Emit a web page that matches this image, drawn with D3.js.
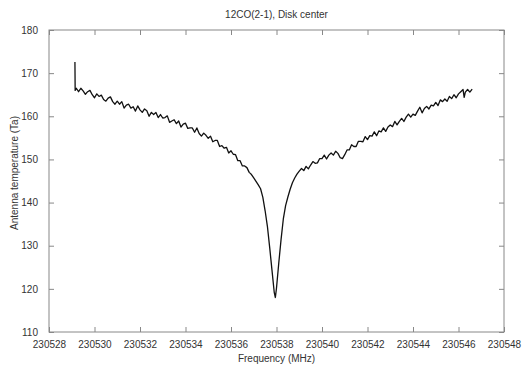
<!DOCTYPE html>
<html>
<head>
<meta charset="utf-8">
<script src="https://cdn.jsdelivr.net/npm/d3@7"></script>
<style>
  body { margin: 0; background: #fff; }
  text { font-family: "Liberation Sans", Arial, sans-serif; fill: #333; }
</style>
</head>
<body>
<script>
let width = 522,
    height = 367;

let margin = {top: 30, right: 18, bottom: 35, left: 49};

let titleText = "12CO(2-1), Disk center";
let xLabel = "Frequency (MHz)";
let yLabel = "Antenna temperature (Ta)";

let xTicks = [230528, 230530, 230532, 230534, 230536, 230538, 230540, 230542, 230544, 230546, 230548];
let yTicks = [110, 120, 130, 140, 150, 160, 170, 180];

// spectrum channels (MHz)
let freqs = [230529.14, 230529.15,
  230529.2, 230529.3, 230529.4, 230529.5, 230529.6, 230529.7, 230529.8, 230529.9,
  230530.0, 230530.1, 230530.2, 230530.3, 230530.4, 230530.5, 230530.6, 230530.7, 230530.8, 230530.9,
  230531.0, 230531.1, 230531.2, 230531.3, 230531.4, 230531.5, 230531.6, 230531.7, 230531.8, 230531.9,
  230532.0, 230532.1, 230532.2, 230532.3, 230532.4, 230532.5, 230532.6, 230532.7, 230532.8, 230532.9,
  230533.0, 230533.1, 230533.2, 230533.3, 230533.4, 230533.5, 230533.6, 230533.7, 230533.8, 230533.9,
  230534.0, 230534.1, 230534.2, 230534.3, 230534.4, 230534.5, 230534.6, 230534.7, 230534.8, 230534.9,
  230535.0, 230535.1, 230535.2, 230535.3, 230535.4, 230535.5, 230535.6, 230535.7, 230535.8, 230535.9,
  230536.0, 230536.1, 230536.2, 230536.3, 230536.4, 230536.5, 230536.6, 230536.7, 230536.8, 230536.9,
  230537.0, 230537.1, 230537.2, 230537.3, 230537.4, 230537.5, 230537.6, 230537.7, 230537.8, 230537.9, 230537.95,
  230538.0, 230538.1, 230538.2, 230538.3, 230538.4, 230538.5, 230538.6, 230538.7, 230538.8, 230538.9,
  230539.0, 230539.1, 230539.2, 230539.3, 230539.4, 230539.5, 230539.6, 230539.7, 230539.8, 230539.9,
  230540.0, 230540.1, 230540.2, 230540.3, 230540.4, 230540.5, 230540.6, 230540.7, 230540.8, 230540.9,
  230541.0, 230541.1, 230541.2, 230541.3, 230541.4, 230541.5, 230541.6, 230541.7, 230541.8, 230541.9,
  230542.0, 230542.1, 230542.2, 230542.3, 230542.4, 230542.5, 230542.6, 230542.7, 230542.8, 230542.9,
  230543.0, 230543.1, 230543.2, 230543.3, 230543.4, 230543.5, 230543.6, 230543.7, 230543.8, 230543.9,
  230544.0, 230544.1, 230544.2, 230544.3, 230544.4, 230544.5, 230544.6, 230544.7, 230544.8, 230544.9,
  230545.0, 230545.1, 230545.2, 230545.3, 230545.4, 230545.5, 230545.6, 230545.7, 230545.8, 230545.9,
  230546.0, 230546.1, 230546.2, 230546.25, 230546.3, 230546.4, 230546.5, 230546.6];

// antenna temperature per channel
let temps = [172.6, 166.0,
  166.5, 165.7, 166.5, 165.9, 165.1, 165.7, 166.0, 165.0,
  164.3, 165.2, 164.6, 164.9, 163.9, 163.5, 164.2, 164.5, 163.4, 162.8,
  163.5, 162.8, 163.4, 161.9, 162.6, 162.8, 161.9, 162.2, 161.2, 162.4,
  161.5, 160.9, 161.7, 161.3, 160.0, 160.9, 160.4, 160.9, 159.7, 160.4,
  159.6, 159.7, 160.1, 158.6, 158.9, 159.2, 158.3, 158.9, 157.5, 158.2,
  158.4, 157.2, 157.3, 157.3, 156.3, 157.3, 156.0, 155.4, 156.1, 155.6,
  154.9, 155.4, 154.1, 154.4, 154.4, 153.0, 153.2, 152.6, 152.8, 151.5,
  152.0, 151.2, 151.1, 149.7, 149.7, 148.5, 148.5, 148.1, 147.0, 146.5,
  145.7, 144.9, 144.1, 143.2, 141.2, 138.1, 134.5, 129.6, 124.4, 119.2, 118.0,
  120.2, 126.0, 131.4, 136.2, 139.3, 141.3, 143.1, 144.6, 145.7, 146.6,
  147.3, 147.9, 147.4, 148.4, 147.8, 148.7, 149.5, 149.1, 149.2, 150.2,
  150.2, 151.0, 150.1, 151.0, 151.5, 151.0, 151.9, 151.4, 150.4, 150.2,
  151.1, 152.2, 152.2, 153.4, 153.0, 153.0, 154.2, 154.2, 154.1, 155.3,
  154.6, 155.5, 155.4, 156.4, 155.5, 156.6, 156.4, 157.3, 156.5, 157.5,
  158.0, 157.6, 158.8, 158.0, 158.8, 159.5, 158.8, 159.8, 160.5, 159.8,
  160.5, 160.2, 161.2, 162.1, 160.8, 161.8, 162.3, 161.7, 162.6, 162.4,
  163.2, 162.5, 163.8, 163.4, 164.0, 163.5, 164.6, 164.1, 165.0, 164.3,
  165.2, 165.7, 166.2, 164.4, 165.6, 166.2, 165.6, 166.3];

let data = freqs.map(function(f, i) { return {f: f, t: temps[i]}; });

let svg = d3.select("body")
            .append("svg")
            .attr("width", width)
            .attr("height", height);

let x0 = margin.left, x1 = width - margin.right;
let y0 = margin.top, y1 = height - margin.bottom;

let xScale = d3.scaleLinear().domain([230528, 230548]).range([x0, x1]);
let yScale = d3.scaleLinear().domain([110, 180]).range([y1, y0]);

let frameColor = "#888";

// ticks on all four sides, pointing inward
svg.append("g")
   .attr("transform", "translate(0," + y1 + ")")
   .call(d3.axisBottom(xScale).tickValues(xTicks).tickSize(-5).tickPadding(9).tickFormat(d3.format("d")))
   .call(function(g) {
       g.select(".domain").remove();
       g.selectAll("line").attr("stroke", frameColor);
       g.selectAll("text").attr("font-size", 10).attr("fill", "#333");
   });

svg.append("g")
   .attr("transform", "translate(0," + y0 + ")")
   .call(d3.axisTop(xScale).tickValues(xTicks).tickSize(-5).tickFormat(""))
   .call(function(g) {
       g.select(".domain").remove();
       g.selectAll("line").attr("stroke", frameColor);
   });

svg.append("g")
   .attr("transform", "translate(" + x0 + ",0)")
   .call(d3.axisLeft(yScale).tickValues(yTicks).tickSize(-5).tickPadding(11))
   .call(function(g) {
       g.select(".domain").remove();
       g.selectAll("line").attr("stroke", frameColor);
       g.selectAll("text").attr("font-size", 10).attr("fill", "#333");
   });

svg.append("g")
   .attr("transform", "translate(" + x1 + ",0)")
   .call(d3.axisRight(yScale).tickValues(yTicks).tickSize(-5).tickFormat(""))
   .call(function(g) {
       g.select(".domain").remove();
       g.selectAll("line").attr("stroke", frameColor);
   });

svg.append("rect")
   .attr("x", x0)
   .attr("y", y0)
   .attr("width", x1 - x0)
   .attr("height", y1 - y0)
   .attr("fill", "none")
   .attr("stroke", frameColor)
   .attr("stroke-width", 1);

let line = d3.line()
             .x(function(d) { return xScale(d.f); })
             .y(function(d) { return yScale(d.t); });

svg.append("path")
   .datum(data)
   .attr("d", line)
   .attr("fill", "none")
   .attr("stroke", "#111")
   .attr("stroke-width", 1.3)
   .attr("stroke-linejoin", "round");

// title and axis labels
svg.append("text")
   .attr("x", (x0 + x1) / 2)
   .attr("y", 18)
   .attr("text-anchor", "middle")
   .attr("font-size", 10)
   .text(titleText);

svg.append("text")
   .attr("x", (x0 + x1) / 2)
   .attr("y", 362)
   .attr("text-anchor", "middle")
   .attr("font-size", 10)
   .text(xLabel);

svg.append("text")
   .attr("transform", "translate(18," + ((y0 + y1) / 2 - 8) + ") rotate(-90)")
   .attr("text-anchor", "middle")
   .attr("font-size", 10)
   .text(yLabel);
</script>
</body>
</html>
